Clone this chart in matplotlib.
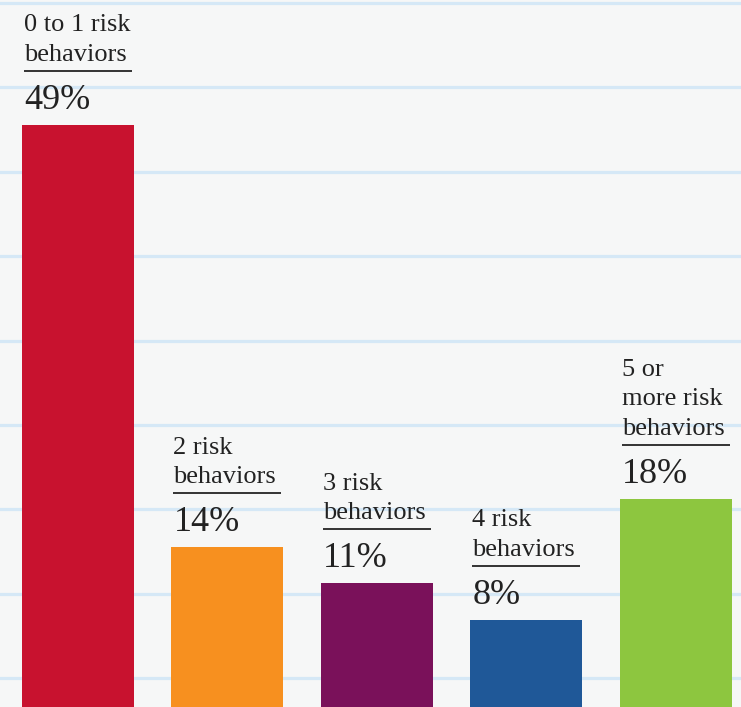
import matplotlib
matplotlib.use("Agg")
import matplotlib.pyplot as plt

# ---- data ----
categories = ["0 to 1 risk\nbehaviors", "2 risk\nbehaviors", "3 risk\nbehaviors",
              "4 risk\nbehaviors", "5 or\nmore risk\nbehaviors"]
values = [49, 14, 11, 8, 18]
pct_labels = ["49%", "14%", "11%", "8%", "18%"]
colors = ["#C8122F", "#F7901F", "#7A115A", "#1F5898", "#8DC63F"]

W, H = 741, 707
fig = plt.figure(figsize=(W / 100, H / 100), dpi=100)
fig.patch.set_facecolor("#F6F7F7")
ax = fig.add_axes([0, 0, 1, 1])
ax.set_facecolor("#F6F7F7")

px_per_val = 12.06
base_px = 716.0
step_px = 149.4
first_px = 78.0
ax.set_ylim((base_px - H) / px_per_val, base_px / px_per_val)
ax.set_xlim(-first_px / step_px, (W - first_px) / step_px)
ax.axis("off")

# notebook lines
for k in range(9):
    ypx = 3 + 84.4 * k
    f = 1 - ypx / H
    ax.plot([0, 1], [f, f], transform=ax.transAxes, color="#D5E8F6", lw=2.3, zorder=0.5)

xs = list(range(len(values)))
bw = 112 / step_px
ax.bar(xs, values, width=bw, color=colors, zorder=2)

font = "Liberation Serif"
txt_color = "#222222"
dy = 1 / px_per_val
dx = 1 / step_px
for x, v, cat, pct in zip(xs, values, categories, pct_labels):
    left = x - bw / 2
    ax.text(left + 2 * dx, v + 16 * dy, pct, fontsize=26, family=font,
            color=txt_color, ha="left", va="baseline", zorder=3)
    ax.plot([left + 2 * dx, left + bw - 2 * dx], [v + 54 * dy] * 2,
            color="#333333", lw=1.4, zorder=3, solid_capstyle="butt")
    ax.text(left + 2 * dx, v + 64 * dy, cat, fontsize=19, family=font,
            color=txt_color, ha="left", va="baseline", linespacing=1.45, zorder=3)

fig.savefig("out.png", dpi=100, facecolor=fig.get_facecolor())
